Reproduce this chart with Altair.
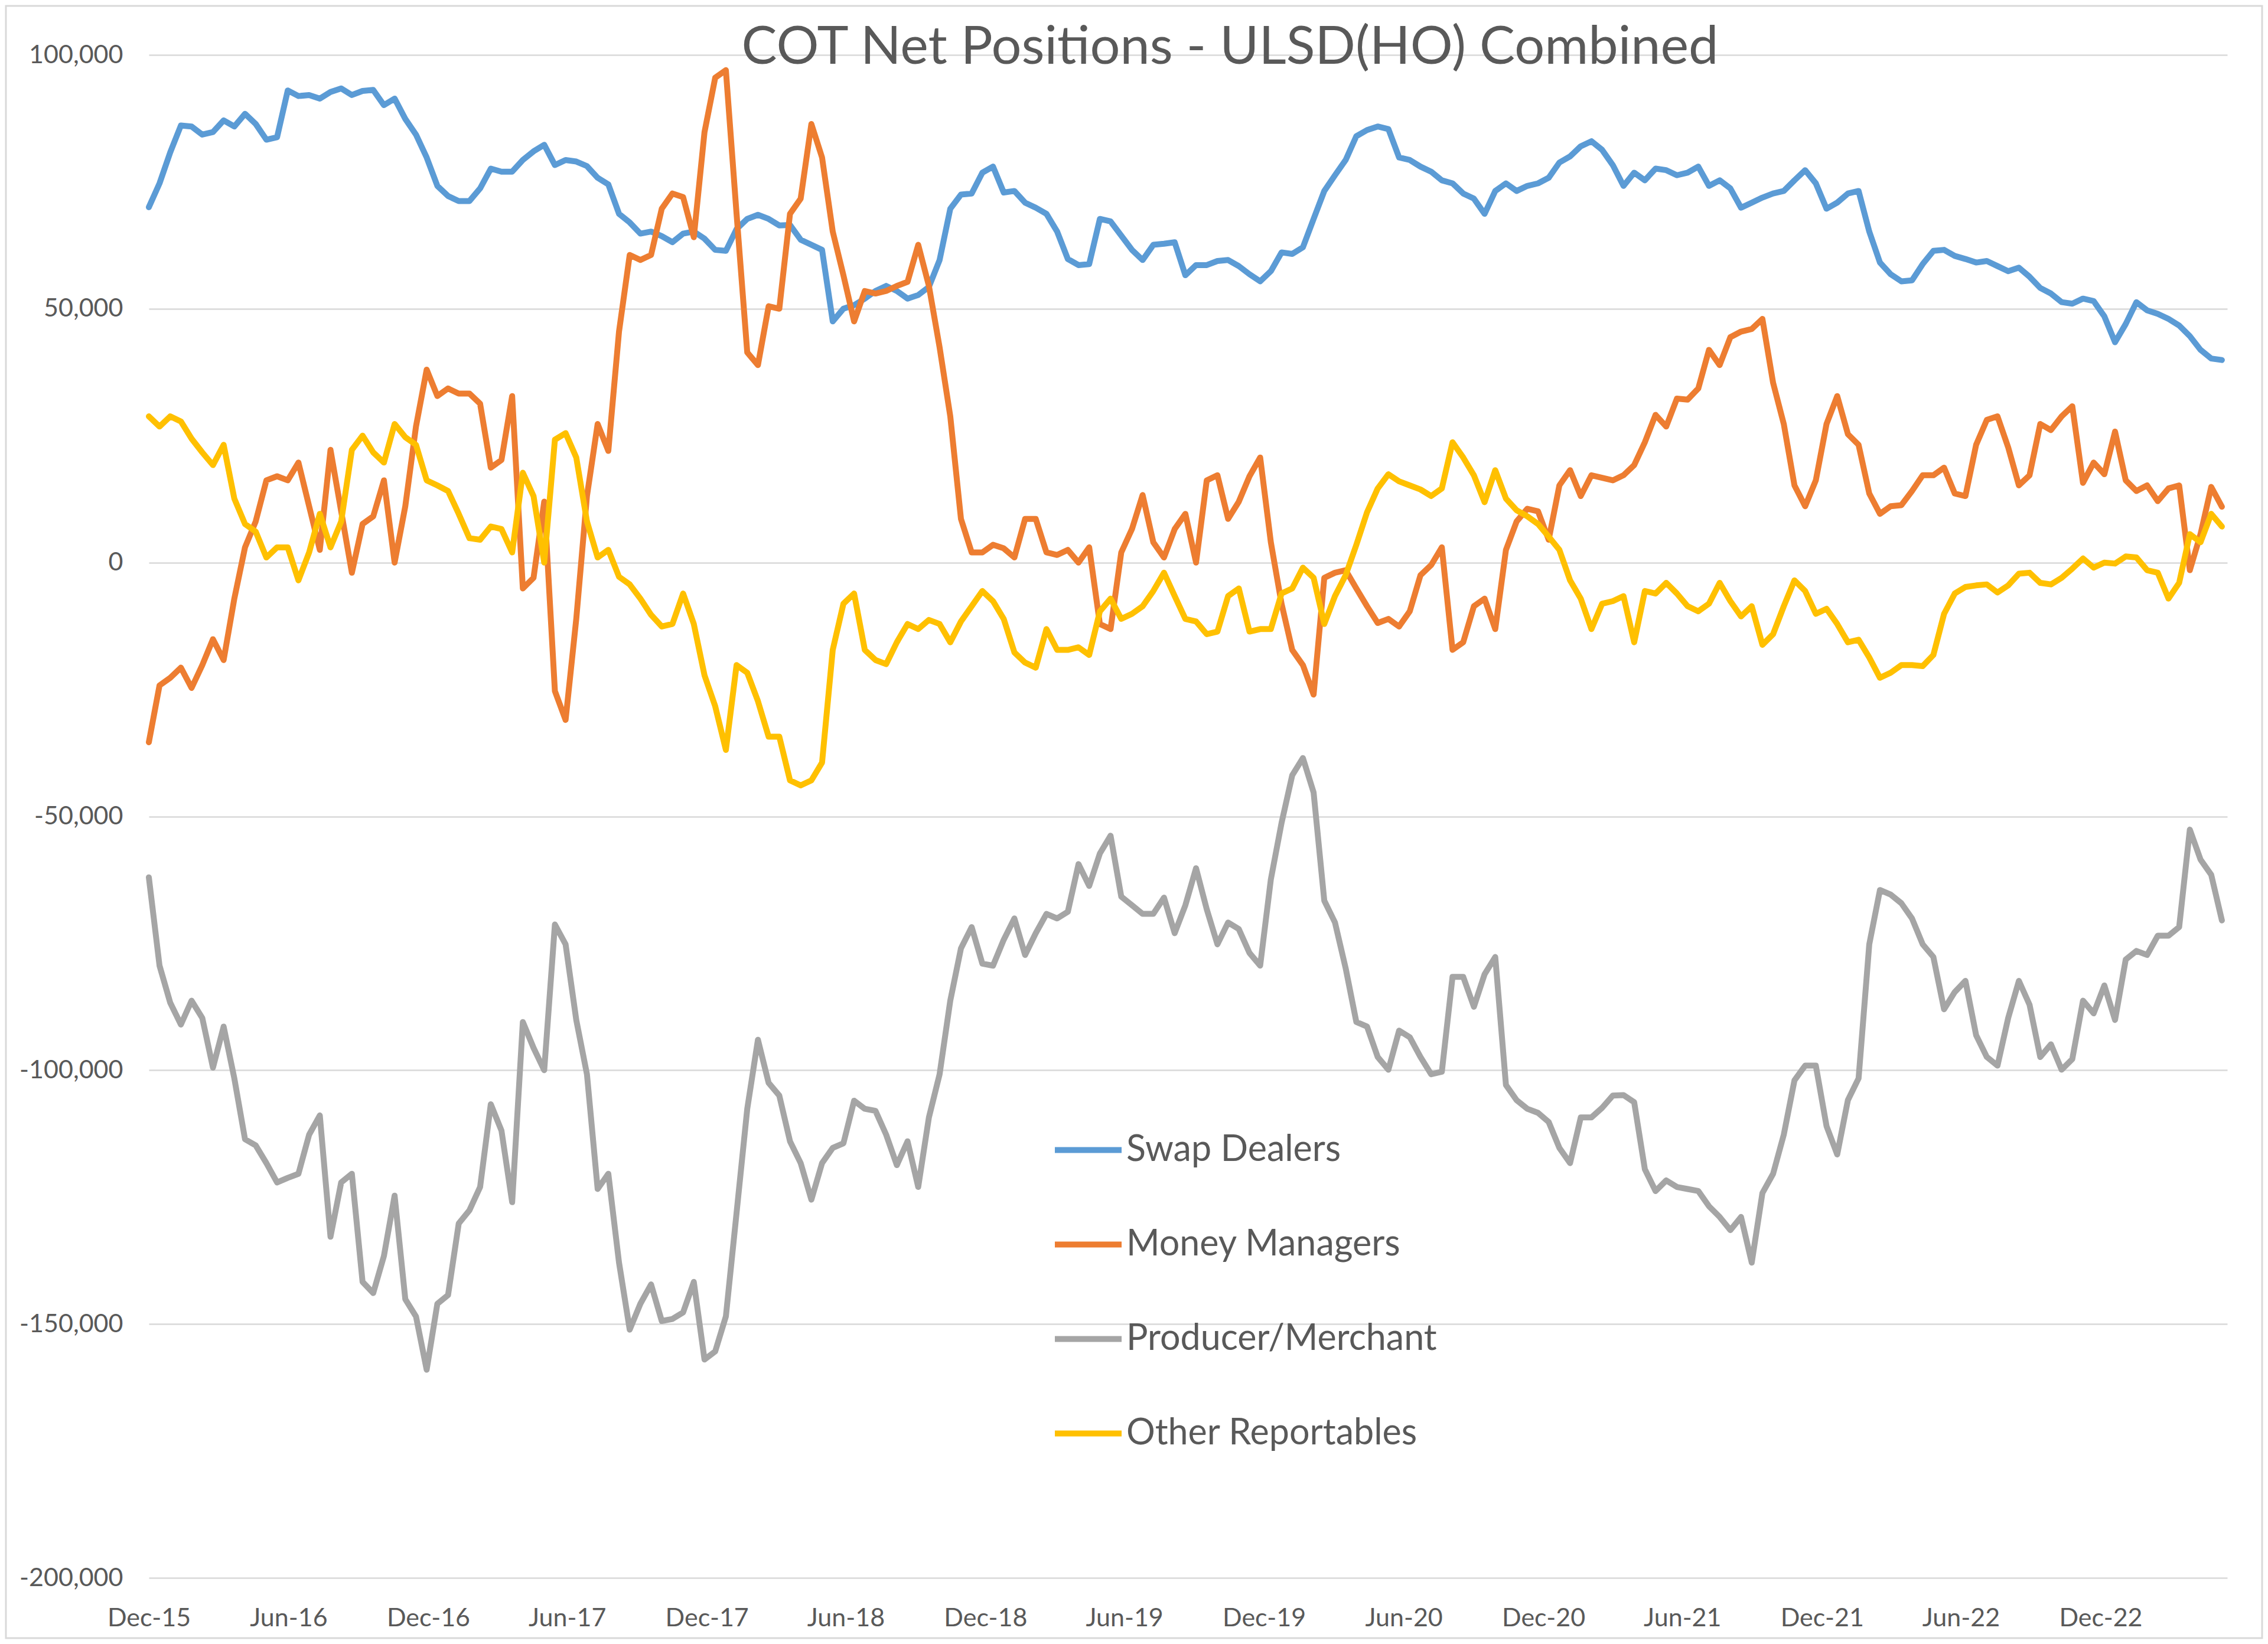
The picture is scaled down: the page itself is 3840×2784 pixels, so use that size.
import altair as alt
import pandas as pd

# ---- data (net positions, thousands of contracts), bi-weekly readings from 2015-12-29 ----
start_date = "2015-12-29"
step_days = 14

series_names = ["Swap Dealers", "Money Managers", "Producer/Merchant", "Other Reportables"]
series_colors = ["#5B9BD5", "#ED7D31", "#A5A5A5", "#FFC000"]

swap_dealers = [
    70.0, 74.7, 80.8, 86.1, 85.9, 84.3, 84.8, 87.1, 85.9, 88.4, 86.4, 83.3, 83.8, 93.0, 91.9, 92.1, 91.4,
    92.7, 93.4, 92.1, 92.9, 93.1, 90.1, 91.4, 87.4, 84.3, 79.8, 74.2, 72.2, 71.2, 71.2, 73.7, 77.6,
    77.0, 77.0, 79.3, 81.0, 82.3, 78.3, 79.3, 79.0, 78.1, 75.8, 74.5, 68.7, 67.0, 64.8, 65.2, 64.3,
    63.1, 64.8, 65.2, 63.8, 61.6, 61.4, 65.7, 67.7, 68.5, 67.7, 66.4, 66.5, 63.6, 62.6, 61.6, 47.5,
    50.0, 50.7, 52.0, 53.5, 54.5, 53.5, 52.0, 52.7, 54.3, 59.6, 69.7, 72.5, 72.7, 76.8, 78.0, 72.9,
    73.2, 70.9, 69.9, 68.7, 65.2, 59.8, 58.6, 58.8, 67.7, 67.2, 64.4, 61.6, 59.6, 62.6, 62.8, 63.1,
    56.6, 58.6, 58.6, 59.4, 59.6, 58.4, 56.8, 55.4, 57.4, 61.1, 60.8, 62.1, 67.7, 73.2, 76.3, 79.3,
    84.0, 85.2, 85.9, 85.4, 79.8, 79.3, 78.0, 77.0, 75.3, 74.7, 72.7, 71.7, 68.7, 73.2, 74.7, 73.2, 74.2,
    74.7, 75.8, 78.8, 80.0, 82.0, 83.0, 81.3, 78.3, 74.2, 76.8, 75.3, 77.6, 77.3, 76.3, 76.8, 78.0,
    74.2, 75.3, 73.7, 69.9, 70.9, 71.9, 72.7, 73.2, 75.3, 77.3, 74.7, 69.7, 70.9, 72.7, 73.2, 65.2, 59.1,
    56.8, 55.4, 55.6, 58.8, 61.4, 61.6, 60.4, 59.8, 59.1, 59.4, 58.4, 57.4, 58.1, 56.3, 54.1, 53.0,
    51.3, 51.0, 52.0, 51.5, 48.5, 43.4, 47.0, 51.3, 49.7, 49.0, 48.0, 46.7, 44.6, 41.9, 40.2, 39.9,
]

money_managers = [
    -35.4, -24.2, -22.7, -20.7, -24.7, -20.2, -15.1, -19.2, -7.1, 3.0, 8.1, 16.2, 17.0, 16.2, 19.7, 11.1, 2.5,
    22.2, 10.1, -2.0, 7.6, 9.1, 16.2, 0.0, 11.1, 26.8, 38.0, 32.8, 34.3, 33.3, 33.3, 31.3, 18.7,
    20.2, 32.8, -5.1, -3.0, 12.0, -25.3, -31.0, -11.1, 13.1, 27.3, 22.0, 45.5, 60.6, 59.6, 60.6, 69.7,
    72.7, 72.0, 64.1, 84.8, 95.5, 97.0, 68.7, 41.4, 38.9, 50.5, 50.0, 68.7, 71.7, 86.4, 79.8, 65.2,
    56.6, 47.5, 53.5, 53.0, 53.5, 54.5, 55.3, 62.6, 54.5, 42.4, 28.8, 8.6, 2.0, 2.0, 3.5, 2.8,
    1.0, 8.6, 8.6, 2.0, 1.5, 2.5, 0.0, 3.0, -12.1, -13.1, 2.0, 6.6, 13.3, 4.0, 1.0, 6.6,
    9.6, 0.0, 16.2, 17.2, 8.6, 12.0, 17.0, 20.7, 4.0, -8.1, -17.2, -20.2, -26.0, -3.0, -2.0, -1.5,
    -5.1, -8.6, -11.9, -11.1, -12.6, -9.6, -2.5, -0.5, 3.0, -17.2, -15.7, -8.6, -7.1, -13.1, 2.5, 8.1, 10.6,
    10.1, 4.5, 15.2, 18.2, 13.1, 17.2, 16.7, 16.2, 17.2, 19.2, 23.7, 29.1, 26.8, 32.3, 32.1, 34.3,
    41.9, 38.9, 44.4, 45.5, 46.0, 48.0, 35.4, 27.3, 15.2, 11.1, 16.2, 27.3, 32.8, 25.3, 23.2, 13.6, 9.6,
    11.1, 11.3, 14.1, 17.2, 17.2, 18.7, 13.6, 13.1, 23.2, 28.1, 28.8, 22.7, 15.2, 17.2, 27.3, 26.1,
    28.8, 30.8, 15.7, 19.7, 17.4, 25.8, 16.2, 14.1, 15.2, 12.1, 14.6, 15.2, -1.5, 5.6, 14.9, 11.0,
]

producer_merchant = [
    -62.0, -79.4, -86.7, -91.0, -86.3, -89.7, -99.5, -91.4, -101.6, -113.6, -114.8, -118.3, -122.1,
    -121.2, -120.4, -112.7, -108.9, -132.8, -122.1, -120.4, -141.7, -143.9, -136.6, -124.7, -145.1,
    -148.5, -159.0, -146.0, -144.3, -130.2, -127.6, -123.0, -106.7,
    -111.9, -126.0, -90.5, -95.6, -100.0, -71.3, -75.2, -90.1, -100.8, -123.4, -120.4, -137.9, -151.1,
    -146.0, -142.2, -149.4, -149.0, -147.7, -141.7, -157.0, -155.4, -148.5, -128.1, -107.6, -94.0,
    -102.5, -105.0, -114.0, -118.3, -125.5, -118.3, -115.3,
    -114.4, -106.0, -107.6, -108.0, -112.7, -118.7, -114.0, -123.0, -109.3, -100.8, -86.3, -76.0, -71.8,
    -79.0, -79.4, -74.3, -70.1, -77.3, -73.0, -69.2, -70.1, -68.8, -59.4, -63.7, -57.3, -53.8, -65.8,
    -67.5, -69.2, -69.2, -66.0, -73.0,
    -67.5, -60.2, -68.3, -75.2, -70.9, -72.2, -76.9, -79.4, -62.4, -51.3, -41.9, -38.5, -45.3, -66.6,
    -70.9, -79.9, -90.5, -91.4, -97.4, -99.9, -92.2, -93.5, -97.4, -100.8, -100.3, -81.6, -81.6, -87.5,
    -81.1, -77.7, -102.9, -105.9, -107.6,
    -108.4, -110.2, -115.3, -118.3, -109.3, -109.3, -107.4, -105.0, -104.9, -106.3, -119.5, -123.8,
    -121.7, -123.0, -123.4, -123.8, -126.8, -128.9, -131.5, -128.9, -137.9, -124.2, -120.4, -112.7,
    -102.0, -99.1, -99.1, -111.0, -116.6, -105.9, -101.6, -75.2, -64.5,
    -65.4, -67.1, -70.1, -75.2, -77.7, -88.0, -84.6, -82.4, -93.1, -97.4, -99.1, -89.7, -82.4, -87.1,
    -97.4, -94.9, -99.9, -97.8, -86.3, -88.8, -83.3, -90.1, -78.2, -76.5, -77.3, -73.5, -73.5, -71.8,
    -52.6, -58.5, -61.5, -70.5,
]

other_reportables = [
    28.8, 26.8, 28.8, 27.8, 24.4, 21.7, 19.2, 23.2, 12.6, 7.6, 6.1, 1.0, 3.0, 3.0, -3.5, 2.0, 9.6,
    3.0, 8.1, 22.2, 25.0, 21.7, 19.7, 27.3, 24.7, 23.2, 16.2, 15.2, 14.1, 9.6, 4.8, 4.5, 7.1,
    6.6, 2.0, 17.7, 13.1, 0.0, 24.2, 25.5, 20.7, 8.1, 1.0, 2.5, -2.8, -4.3, -7.1, -10.3, -12.6,
    -12.1, -6.1, -12.1, -22.2, -28.3, -36.9, -20.2, -21.7, -27.3, -34.3, -34.3, -42.9, -43.9, -42.9, -39.4, -17.2,
    -8.1, -6.1, -17.2, -19.2, -20.0, -15.7, -12.1, -13.1, -11.3, -12.1, -15.7, -11.6, -8.6, -5.6, -7.6, -11.1,
    -17.7, -19.7, -20.7, -13.1, -17.2, -17.2, -16.7, -18.2, -9.6, -7.1, -11.1, -10.1, -8.6, -5.6, -2.0, -6.6,
    -11.1, -11.6, -14.1, -13.6, -6.6, -5.1, -13.6, -13.1, -13.1, -6.1, -5.1, -1.0, -3.0, -12.1, -6.6, -2.5,
    3.5, 9.9, 14.6, 17.4, 16.0, 15.2, 14.4, 13.1, 14.6, 23.7, 20.7, 17.2, 11.9, 18.2, 12.6, 10.3, 9.1,
    7.6, 5.1, 2.5, -3.5, -7.1, -13.1, -8.1, -7.6, -6.6, -15.7, -5.6, -6.1, -4.0, -6.1, -8.6, -9.6,
    -8.1, -4.0, -7.6, -10.6, -8.6, -16.2, -14.1, -8.6, -3.5, -5.6, -10.1, -9.1, -12.1, -15.7, -15.2, -18.7, -22.7,
    -21.7, -20.2, -20.2, -20.4, -18.2, -10.1, -6.1, -4.8, -4.5, -4.3, -5.9, -4.5, -2.2, -2.0, -4.0, -4.3,
    -3.0, -1.2, 0.8, -1.0, 0.0, -0.2, 1.2, 1.0, -1.5, -2.0, -7.1, -4.0, 5.6, 4.0, 9.6, 7.1,
]

# x-axis tick labels (Excel date axis, every 6 months from the first report)
tick_years = [2015, 2016, 2016, 2017, 2017, 2018, 2018, 2019, 2019, 2020, 2020, 2021, 2021, 2022, 2022]
tick_months = [12, 6, 12, 6, 12, 6, 12, 6, 12, 6, 12, 6, 12, 6, 12]

y_ticks = [-200000, -150000, -100000, -50000, 0, 50000, 100000]
chart_title = "COT Net Positions - ULSD(HO) Combined"

# ---- build table ----
n = len(swap_dealers)
dates = pd.date_range(start_date, periods=n, freq=f"{step_days}D")
date_str = dates.strftime("%Y-%m-%d")
all_vals = [swap_dealers, money_managers, producer_merchant, other_reportables]
frames = []
for name, vals in zip(series_names, all_vals):
    frames.append(pd.DataFrame({"date": list(date_str), "value": [v * 1000 for v in vals], "series": name}))
df = pd.concat(frames, ignore_index=True)

end = dates[-1] + pd.Timedelta(days=7)

W, H = 3519, 2579
PAD = {"left": 244, "top": 85, "right": 61, "bottom": 104}
FONT = "Lato"
TXT = "#595959"

x_enc = alt.X(
    "date:T",
    scale=alt.Scale(
        type="utc",
        domain=[
            alt.DateTime(year=2015, month=12, date=29, utc=True),
            alt.DateTime(year=end.year, month=end.month, date=end.day, utc=True),
        ],
        nice=False,
    ),
    axis=alt.Axis(
        values=[alt.DateTime(year=y, month=m, date=29, utc=True) for y, m in zip(tick_years, tick_months)],
        labelExpr="utcFormat(datum.value, '%b-%y')",
        title=None,
        grid=False,
        domain=False,
        ticks=False,
        labelFlush=False,
        labelOverlap=False,
        labelLimit=1000,
        labelFont=FONT,
        labelFontSize=43,
        labelColor=TXT,
        labelPadding=47,
    ),
)
y_enc = alt.Y(
    "value:Q",
    scale=alt.Scale(domain=[-200000, 100000], nice=False, zero=False),
    axis=alt.Axis(
        values=y_ticks,
        labelExpr="replace(format(datum.value, ','), '\u2212', '-')",
        title=None,
        domain=False,
        ticks=False,
        grid=True,
        gridColor="#D9D9D9",
        gridWidth=2.5,
        labelLimit=1000,
        labelFont=FONT,
        labelFontSize=43,
        labelColor=TXT,
        labelPadding=44,
    ),
)
color_enc = alt.Color(
    "series:N",
    scale=alt.Scale(domain=series_names, range=series_colors),
    legend=alt.Legend(
        title=None,
        orient="none",
        legendX=1529,
        legendY=1793,
        symbolType="stroke",
        symbolSize=12769,
        symbolStrokeWidth=10,
        labelFont=FONT,
        labelFontSize=61,
        labelColor=TXT,
        labelOffset=3,
        labelLimit=2000,
        rowPadding=68,
        padding=0,
    ),
)

layers = []
for name in series_names:
    layers.append(
        alt.Chart(df[df["series"] == name])
        .mark_line(strokeWidth=10, strokeJoin="round", strokeCap="round")
        .encode(x=x_enc, y=y_enc, color=color_enc)
    )

title_df = pd.DataFrame({"t": [chart_title]})
title_layer = alt.Chart(title_df).mark_text(
    align="center", baseline="alphabetic", font=FONT, fontSize=90, color=TXT
).encode(x=alt.value(W / 2 + 71), y=alt.value(15), text="t:N")

border_df = pd.DataFrame({"b": [0]})
border = alt.Chart(border_df).mark_rect(fill="transparent", stroke="#D9D9D9", strokeWidth=3).encode(
    x=alt.value(-242), x2=alt.value(W + 59), y=alt.value(-83), y2=alt.value(H + 102)
)

chart = (
    alt.layer(border, *layers, title_layer)
    .properties(width=W, height=H, autosize=alt.AutoSizeParams(type="none"), padding=PAD, background="white")
    .configure_view(strokeWidth=0)
)

chart.save("out.html", embed_options={"renderer": "svg", "actions": False})
